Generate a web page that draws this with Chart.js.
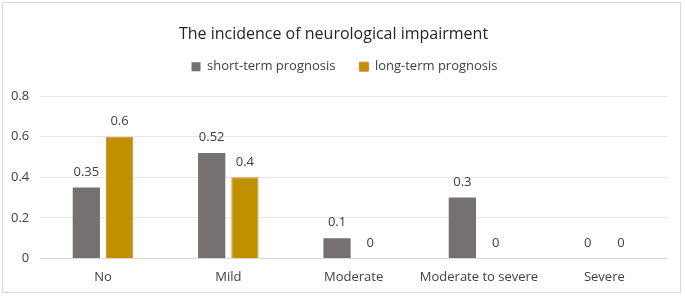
<!DOCTYPE html>
<html>
<head>
<meta charset="utf-8">
<script src="https://cdn.jsdelivr.net/npm/chart.js@4/dist/chart.umd.min.js"></script>
<style>
  html, body { margin: 0; padding: 0; background: #fff; }
  #frame { position: absolute; left: 2px; top: 2px; width: 679px; height: 291px; border: 1px solid #d9d9d9; box-sizing: border-box; }
  #wrap { position: absolute; left: 0; top: 0; width: 685px; height: 297px; }
</style>
</head>
<body>
<div id="frame"></div>
<div id="wrap"><canvas id="c"></canvas></div>
<script>
const categories = ["No", "Mild", "Moderate", "Moderate to severe", "Severe"];
const shortTerm = [0.35, 0.52, 0.1, 0.3, 0];
const longTerm = [0.6, 0.4, 0, 0, 0];
const yTicks = [0, 0.2, 0.4, 0.6, 0.8];

const font = "'Open Sans', 'Noto Sans', sans-serif";

const valueLabels = {
  id: "valueLabels",
  afterDatasetsDraw(chart) {
    const ctx = chart.ctx;
    ctx.save();
    ctx.font = "13px " + font;
    ctx.fillStyle = "#404040";
    ctx.textAlign = "center";
    ctx.textBaseline = "bottom";
    chart.data.datasets.forEach((ds, i) => {
      chart.getDatasetMeta(i).data.forEach((bar, j) => {
        ctx.fillText(String(ds.data[j]), bar.x, bar.y - 9);
      });
    });
    ctx.restore();
  }
};

// extra room under the legend, and nudge it right a little
const legendGap = {
  id: "legendGap",
  beforeInit(chart) {
    const fit = chart.legend.fit;
    chart.legend.fit = function () {
      fit.call(this);
      this.height += 13;
    };
  },
  afterLayout(chart) {
    chart.legend.left += 11;
    chart.legend.right += 11;
  }
};

new Chart(document.getElementById("c"), {
  type: "bar",
  data: {
    labels: categories,
    datasets: [
      { label: "short-term prognosis", data: shortTerm, backgroundColor: "#767171", borderColor: "#767171", borderWidth: 0 },
      { label: "long-term prognosis", data: longTerm, backgroundColor: "#bf9000", borderColor: "#ed7d31", borderWidth: 1 }
    ]
  },
  options: {
    responsive: true,
    maintainAspectRatio: false,
    animation: false,
    layout: { padding: { left: 0, right: 18, top: 12, bottom: 9 } },
    datasets: { bar: { categoryPercentage: 0.53, barPercentage: 0.82 } },
    plugins: {
      title: {
        display: true,
        text: "The incidence of neurological impairment",
        color: "#262626",
        font: { family: font, size: 16, weight: "normal" },
        padding: { top: 13, bottom: -8 }
      },
      legend: {
        position: "top",
        labels: {
          color: "#404040",
          font: { family: font, size: 13 },
          boxWidth: 9,
          boxHeight: 9,
          padding: 24
        }
      },
      tooltip: { enabled: false }
    },
    scales: {
      x: {
        grid: { display: false },
        border: { color: "#d9d9d9" },
        ticks: { color: "#404040", font: { family: font, size: 13 }, maxRotation: 0, autoSkip: false, padding: 3 }
      },
      y: {
        min: 0,
        max: 0.8,
        afterBuildTicks(axis) { axis.ticks = yTicks.map(v => ({ value: v })); },
        grid: { color: "#e6e6e6", drawTicks: false },
        border: { display: false },
        ticks: { color: "#404040", font: { family: font, size: 13 }, padding: 11 }
      }
    }
  },
  plugins: [valueLabels, legendGap]
});
</script>
</body>
</html>
